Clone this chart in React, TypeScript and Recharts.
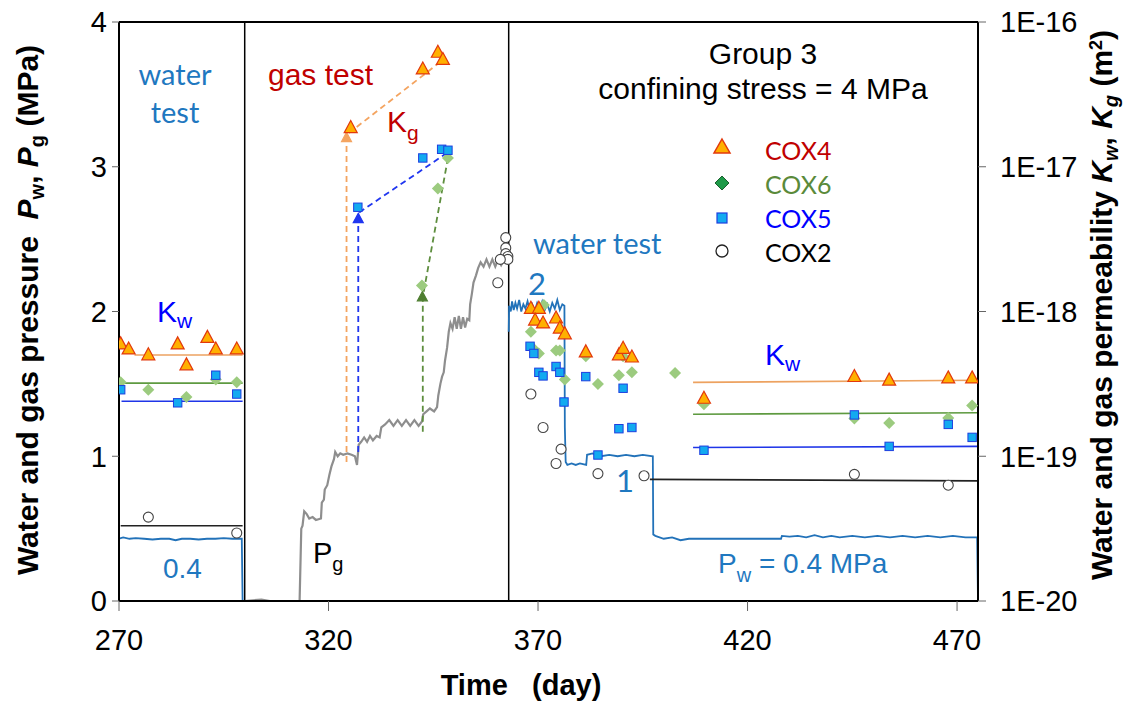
import React from "react";
import {
  ComposedChart,
  Line,
  Scatter,
  XAxis,
  YAxis,
  ReferenceLine,
} from "recharts";

// ---- data (days, MPa for pressures, m2 for permeabilities) ----
type Pt = { x: number; y: number };
const pts = (a: number[][]): Pt[] => a.map(([x, y]) => ({ x, y }));

const xTicks = [270, 320, 370, 420, 470];
const pTicks = [0, 1, 2, 3, 4];
const kTicks = [1e-20, 1e-19, 1e-18, 1e-17, 1e-16];
const stageBounds = [300, 363];

// water pressure Pw
const pwStage1 = pts([
  [270, 0.43], [271, 0.44], [272.5, 0.43], [274, 0.435], [276, 0.43], [278, 0.425],
  [280, 0.43], [282, 0.43], [283.5, 0.42], [285, 0.43], [287, 0.43], [289, 0.425],
  [291, 0.43], [293, 0.43], [295, 0.435], [297, 0.43], [299.3, 0.43], [299.5, 0], [300, 0],
]);
const pwStage3 = pts([
  [363, 1.86], [363.1, 2.04], [363.5, 2.0], [363.8, 2.07], [364.2, 2.01], [364.6, 2.06],
  [365, 2.02], [365.5, 2.08], [366, 2.0], [366.5, 2.05], [367, 2.02], [367.5, 2.07],
  [368, 2.01], [368.6, 2.05], [369.2, 2.0], [369.8, 2.06], [370.4, 2.02], [371, 2.07],
  [371.6, 2.01], [372.2, 2.05], [372.8, 2.0], [373.4, 2.06], [374, 2.02], [374.6, 2.08],
  [375.2, 2.01], [375.8, 2.05], [376.3, 2.04], [376.4, 1.2], [376.6, 0.96], [377, 0.94],
  [378, 0.95], [379, 0.94], [380, 0.95], [381.5, 0.94], [381.7, 1.01], [383, 1.02],
  [385, 1.0], [387, 1.01], [389, 1.0], [391, 1.01], [393, 1.0], [395, 1.01], [397.4, 1.0],
  [397.5, 0.46], [398, 0.45], [400, 0.43], [402, 0.44], [404, 0.42], [406, 0.43],
  [408, 0.43], [428, 0.43], [428.2, 0.45], [430, 0.445], [432, 0.45], [434, 0.44],
  [436, 0.455], [438, 0.44], [440, 0.45], [442, 0.44], [445, 0.45], [448, 0.44],
  [451, 0.45], [454, 0.44], [457, 0.45], [460, 0.44], [463, 0.45], [466, 0.44],
  [469, 0.45], [472, 0.44], [474.8, 0.44], [475, 0],
]);

// gas pressure Pg
const pgGas = pts([
  [300, 0], [304, 0.01], [306, 0], [313.1, 0], [313.5, 0.5], [313.8, 0.52], [314.2, 0.62],
  [314.8, 0.6], [315.4, 0.57], [316.2, 0.58], [317, 0.56], [318.2, 0.57], [318.4, 0.68],
  [318.9, 0.7], [319.1, 0.77], [319.7, 0.8], [320.2, 0.87], [320.7, 0.93], [321.3, 0.98],
  [321.6, 1.03], [322.2, 1.0], [322.8, 1.02], [323.5, 1.01], [324.5, 1.02], [325.5, 1.01],
  [326.3, 1.0], [326.8, 0.94], [327.2, 1.08], [327.8, 1.1], [328.5, 1.13], [329.2, 1.1],
  [329.9, 1.14], [330.6, 1.11], [331.5, 1.14], [332.2, 1.13], [332.6, 1.2], [333.5, 1.22],
  [334.5, 1.25], [335.5, 1.21], [336.5, 1.25], [337.5, 1.21], [338.5, 1.25], [339.5, 1.21],
  [340.5, 1.25], [341.5, 1.21], [342.3, 1.24], [342.6, 1.29], [343.4, 1.31], [344.2, 1.33],
  [345.2, 1.31], [345.9, 1.34], [346.2, 1.42], [346.7, 1.5], [347.1, 1.55], [347.5, 1.58],
  [347.8, 1.66], [348.3, 1.75], [348.7, 1.86], [349.1, 1.92], [349.6, 1.88], [350.1, 1.96],
  [350.6, 1.88], [351.1, 1.97], [351.6, 1.88], [352.1, 1.96], [352.6, 1.89], [353.1, 1.95],
  [353.6, 1.94], [353.8, 2.05], [354.2, 2.12], [354.6, 2.2], [355.2, 2.25], [355.7, 2.3],
  [356.3, 2.34], [357, 2.31], [357.7, 2.36], [358.4, 2.31], [359.1, 2.36], [359.8, 2.31],
  [360.5, 2.36], [361.2, 2.32], [361.9, 2.36], [362.6, 2.33],
]);

// dashed Kg guides (in pressure units, left axis)
const guideCox4 = pts([[324.3, 0.96], [324.3, 3.22], [346.5, 3.72]]);
const guideCox5 = pts([[327.1, 1.03], [327.1, 2.68], [348.5, 3.1]]);
const guideCox6 = pts([[342.5, 1.17], [342.5, 2.1], [348.5, 3.06]]);
const arrowCox4 = pts([[324.3, 3.2]]);
const arrowCox5 = pts([[327.1, 2.64]]);
const arrowCox6 = pts([[342.4, 2.1]]);

// permeabilities (right axis)
const cox4 = pts([
  [270.4, 5.96e-19], [272.3, 5.5e-19], [277.0, 5.01e-19], [284.0, 5.96e-19], [286.1, 4.27e-19],
  [291.1, 6.61e-19], [293.1, 5.5e-19], [298.1, 5.5e-19],
  [325.3, 1.86e-17], [342.5, 4.73e-17], [346.1, 6.17e-17], [347.3, 5.5e-17],
  [368.3, 1.05e-18], [370.2, 1.05e-18], [369.3, 8.71e-19], [371.2, 8.32e-19], [374.3, 9.0e-19],
  [375.2, 7.67e-19], [376.4, 7.0e-19], [381.4, 5.25e-19], [389.3, 5.01e-19], [390.3, 5.56e-19],
  [392.4, 4.84e-19], [409.6, 2.51e-19], [445.5, 3.55e-19], [453.8, 3.35e-19], [467.9, 3.47e-19],
  [473.6, 3.47e-19],
]);
const cox6 = pts([
  [270.4, 3.24e-19], [277.0, 2.88e-19], [286.1, 2.57e-19], [293.1, 3.39e-19], [298.1, 3.24e-19],
  [348.5, 1.15e-17], [346.1, 7.08e-18], [342.3, 1.51e-18],
  [371.4, 1.11e-18], [368.3, 7.24e-19], [369.0, 5.5e-19], [370.2, 5.13e-19], [374.3, 5.37e-19],
  [375.2, 5.37e-19], [376.4, 3.39e-19], [381.4, 4.9e-19], [384.3, 3.16e-19], [389.3, 3.63e-19],
  [390.3, 4.9e-19], [392.4, 3.8e-19], [402.7, 3.76e-19], [409.6, 2.29e-19], [445.5, 1.82e-19],
  [453.8, 1.7e-19], [467.9, 1.84e-19], [473.6, 2.24e-19],
]);
const cox5 = pts([
  [270.4, 2.88e-19], [284.0, 2.34e-19], [293.1, 3.63e-19], [298.1, 2.69e-19],
  [327.0, 5.25e-18], [342.5, 1.15e-17], [347.0, 1.32e-17], [348.5, 1.3e-17],
  [368.1, 5.75e-19], [369.0, 5.13e-19], [370.2, 3.8e-19], [371.2, 3.59e-19], [374.3, 4.17e-19],
  [375.2, 3.8e-19], [376.2, 2.37e-19], [381.4, 3.55e-19], [384.3, 1.02e-19], [390.3, 2.95e-19],
  [389.3, 1.55e-19], [392.4, 1.58e-19], [409.6, 1.1e-19], [445.5, 1.93e-19], [453.8, 1.17e-19],
  [467.9, 1.66e-19], [473.6, 1.35e-19],
]);
const cox2 = pts([
  [277.0, 3.8e-20], [298.1, 2.95e-20],
  [360.4, 1.58e-18], [362.3, 3.24e-18], [362.3, 2.75e-18], [362.3, 2.51e-18], [362.8, 2.4e-18],
  [362.8, 2.29e-18], [361.0, 2.29e-18],
  [368.3, 2.69e-19], [371.2, 1.58e-19], [375.5, 1.12e-19], [374.3, 8.91e-20], [384.3, 7.59e-20],
  [395.3, 7.33e-20], [445.5, 7.5e-20], [467.9, 6.31e-20],
]);

// mean Kw lines
const kwCox4 = [pts([[273.7, 5.0e-19], [299.5, 5.0e-19]]), pts([[407, 3.24e-19], [475, 3.35e-19]])];
const kwCox6 = [pts([[270.6, 3.2e-19], [299.5, 3.2e-19]]), pts([[407, 1.95e-19], [475, 2.0e-19]])];
const kwCox5 = [pts([[270.6, 2.4e-19], [299.5, 2.4e-19]]), pts([[407, 1.15e-19], [475, 1.17e-19]])];
const kwCox2 = [pts([[270.4, 3.31e-20], [299.5, 3.31e-20]]), pts([[396.7, 6.92e-20], [475, 6.76e-20]])];

// ---- styling ----
const ARIAL = '"Liberation Sans", Arial, sans-serif';
const LATO = 'Lato, "Open Sans", sans-serif';
const WATER_BLUE = "#1F78C0";
const DARK_RED = "#C00000";

const TRI_FILL = "#FFB000";
const TRI_STROKE = "#E2380C";
const DIA_FILL = "#9CCB7F";
const SQ_FILL = "#12AAF0";
const SQ_STROKE = "#1D3FE0";

const triangle = (fill: string, stroke: string, s = 6.5) => (p: any) => {
  const { cx, cy } = p;
  return (
    <path
      d={`M${cx},${cy - s * 1.1} L${cx + s},${cy + s * 0.75} L${cx - s},${cy + s * 0.75} Z`}
      fill={fill}
      stroke={stroke}
      strokeWidth={1.2}
    />
  );
};
const diamond = (fill: string, stroke = "none", s = 6) => (p: any) => {
  const { cx, cy } = p;
  return (
    <path
      d={`M${cx},${cy - s} L${cx + s},${cy} L${cx},${cy + s} L${cx - s},${cy} Z`}
      fill={fill}
      stroke={stroke}
    />
  );
};
const square = (fill: string, stroke: string, s = 4.2) => (p: any) => {
  const { cx, cy } = p;
  return <rect x={cx - s} y={cy - s} width={s * 2} height={s * 2} fill={fill} stroke={stroke} strokeWidth={1} />;
};
const circle = (p: any) => <circle cx={p.cx} cy={p.cy} r={5} fill="#fff" stroke="#444" strokeWidth={1.1} />;

const fmtK = (v: number) => "1E" + Math.round(Math.log10(v));

const tickStyle = { fontSize: 29, fill: "#000", fontFamily: ARIAL };

const Overlay = () => (
  <svg
    width={1132}
    height={704}
    style={{ position: "absolute", left: 0, top: 0, pointerEvents: "none" }}
  >
    {/* axis titles */}
    <text
      transform="translate(38,310) rotate(-90)"
      textAnchor="middle"
      fontFamily={ARIAL}
      fontWeight="bold"
      fontSize={30}
      fill="#000"
    >
      Water and gas pressure{"\u00a0\u00a0"}
      <tspan fontStyle="italic">P</tspan>
      <tspan fontSize={20} dy={6}>w</tspan>
      <tspan dy={-6}>, </tspan>
      <tspan fontStyle="italic">P</tspan>
      <tspan fontSize={20} dy={6}>g</tspan>
      <tspan dy={-6}>{"\u00a0"}(MPa)</tspan>
    </text>
    <text
      transform="translate(1112,305) rotate(-90)"
      textAnchor="middle"
      fontFamily={ARIAL}
      fontWeight="bold"
      fontSize={30}
      fill="#000"
    >
      Water and gas permeability{" "}
      <tspan fontStyle="italic">K</tspan>
      <tspan fontSize={20} dy={6} fontStyle="italic">w</tspan>
      <tspan dy={-6}>, </tspan>
      <tspan fontStyle="italic">K</tspan>
      <tspan fontSize={20} dy={6} fontStyle="italic">g</tspan>
      <tspan dy={-6}> (m</tspan>
      <tspan fontSize={18} dy={-10}>2</tspan>
      <tspan dy={10}>)</tspan>
    </text>
    <text x={521} y={695} textAnchor="middle" fontFamily={ARIAL} fontWeight="bold" fontSize={29} fill="#000">
      Time{"\u00a0\u00a0\u00a0"}(day)
    </text>

    {/* stage labels */}
    <g fontFamily={LATO} fill={WATER_BLUE} fontSize={29}>
      <text x={175} y={85} textAnchor="middle">water</text>
      <text x={175} y={123} textAnchor="middle">test</text>
      <text x={533} y={254}>water test</text>
      <text x={528} y={295} fontSize={31}>2</text>
      <text x={616} y={492} fontSize={31}>1</text>
    </g>
    <text x={268} y={85} fontFamily={ARIAL} fontSize={30} fill={DARK_RED}>gas test</text>
    <text x={387} y={132} fontFamily={ARIAL} fontSize={30} fill={DARK_RED}>
      K<tspan fontSize={21} dy={8}>g</tspan>
    </text>
    <g fontFamily={ARIAL} fill="#0000FF" fontSize={30}>
      <text x={157} y={322}>
        K<tspan fontSize={21} dy={6}>w</tspan>
      </text>
      <text x={765} y={365}>
        K<tspan fontSize={21} dy={6}>w</tspan>
      </text>
    </g>
    <text x={163} y={578} fontFamily={ARIAL} fontSize={28} fill={WATER_BLUE}>0.4</text>
    <text x={313} y={563} fontFamily={ARIAL} fontSize={29} fill="#000">
      P<tspan fontSize={20} dy={8}>g</tspan>
    </text>
    <text x={718} y={573} fontFamily={ARIAL} fontSize={28} fill={WATER_BLUE}>
      P<tspan fontSize={20} dy={9}>w</tspan>
      <tspan dy={-9}> = 0.4 MPa</tspan>
    </text>

    {/* header */}
    <g fontFamily={ARIAL} fontSize={30} fill="#000" textAnchor="middle">
      <text x={763} y={64}>Group 3</text>
      <text x={763} y={99}>confining stress = 4 MPa</text>
    </g>

    {/* legend */}
    <path d="M722,139 L730,153 L714,153 Z" fill={TRI_FILL} stroke={TRI_STROKE} strokeWidth={1.5} />
    <path d="M722,176 L729,183 L722,190 L715,183 Z" fill="#1E9A48" stroke="#1B5E2E" strokeWidth={1} />
    <rect x={717} y={213} width={10} height={10} fill={SQ_FILL} stroke={SQ_STROKE} strokeWidth={1.2} />
    <circle cx={722} cy={251} r={6} fill="#fff" stroke="#222" strokeWidth={1.3} />
    <g fontFamily={LATO} fontSize={25}>
      <text x={765} y={160} fill={DARK_RED}>COX4</text>
      <text x={765} y={194} fill="#5A8A3A">COX6</text>
      <text x={765} y={228} fill="#0000FF">COX5</text>
      <text x={765} y={262} fill="#000">COX2</text>
    </g>
  </svg>
);

const fitLine = (data: Pt[], color: string, key: string) => (
  <Line
    key={key}
    yAxisId="right"
    data={data}
    dataKey="y"
    stroke={color}
    strokeWidth={1.6}
    dot={false}
    activeDot={false}
    isAnimationActive={false}
  />
);

export default function App() {
  return (
    <div style={{ position: "absolute", left: 0, top: 0, width: 1132, height: 704, background: "#fff" }}>
      <ComposedChart width={1132} height={704} margin={{ top: 22, right: 0, bottom: 0, left: 0 }}>
        <XAxis
          dataKey="x"
          type="number"
          domain={[270, 475]}
          ticks={xTicks}
          allowDataOverflow
          height={103}
          tickSize={10}
          tickMargin={18}
          tick={tickStyle}
          axisLine={{ stroke: "#000", strokeWidth: 2 }}
          tickLine={{ stroke: "#666" }}
        />
        <YAxis
          yAxisId="left"
          type="number"
          domain={[0, 4]}
          ticks={pTicks}
          width={119}
          tickSize={7}
          tickMargin={5}
          tick={tickStyle}
          axisLine={{ stroke: "#000", strokeWidth: 2 }}
          tickLine={{ stroke: "#666" }}
        />
        <YAxis
          yAxisId="right"
          orientation="right"
          type="number"
          scale="log"
          domain={[1e-20, 1e-16]}
          ticks={kTicks}
          allowDataOverflow
          tickFormatter={fmtK}
          width={154}
          tickSize={8}
          tickMargin={14}
          tick={tickStyle}
          axisLine={{ stroke: "#000", strokeWidth: 2 }}
          tickLine={{ stroke: "#666" }}
        />
        <ReferenceLine yAxisId="left" y={4} stroke="#000" strokeWidth={2} />
        {stageBounds.map((d) => (
          <ReferenceLine key={d} yAxisId="left" x={d} stroke="#000" strokeWidth={1.5} />
        ))}

        <Line yAxisId="left" data={pgGas} dataKey="y" stroke="#8E8E8E" strokeWidth={2.2} dot={false} activeDot={false} isAnimationActive={false} />
        <Line yAxisId="left" data={pwStage1} dataKey="y" stroke="#2272B9" strokeWidth={1.8} dot={false} activeDot={false} isAnimationActive={false} />
        <Line yAxisId="left" data={pwStage3} dataKey="y" stroke="#2272B9" strokeWidth={1.8} dot={false} activeDot={false} isAnimationActive={false} />

        <Line yAxisId="left" data={guideCox4} dataKey="y" stroke="#F4A460" strokeWidth={1.8} strokeDasharray="6 4" dot={false} activeDot={false} isAnimationActive={false} />
        <Line yAxisId="left" data={guideCox5} dataKey="y" stroke="#2036F0" strokeWidth={1.8} strokeDasharray="6 4" dot={false} activeDot={false} isAnimationActive={false} />
        <Line yAxisId="left" data={guideCox6} dataKey="y" stroke="#5E8E3E" strokeWidth={1.8} strokeDasharray="6 4" dot={false} activeDot={false} isAnimationActive={false} />
        <Scatter yAxisId="left" data={arrowCox4} dataKey="y" shape={triangle("#F4A460", "#F4A460", 5)} isAnimationActive={false} />
        <Scatter yAxisId="left" data={arrowCox5} dataKey="y" shape={triangle("#2036F0", "#2036F0", 5)} isAnimationActive={false} />
        <Scatter yAxisId="left" data={arrowCox6} dataKey="y" shape={triangle("#4E7E30", "#4E7E30", 5)} isAnimationActive={false} />

        {kwCox4.map((d, i) => fitLine(d, "#EDA260", "k4" + i))}
        {kwCox6.map((d, i) => fitLine(d, "#5E9A40", "k6" + i))}
        {kwCox5.map((d, i) => fitLine(d, "#1F35E8", "k5" + i))}
        {kwCox2.map((d, i) => fitLine(d, "#222222", "k2" + i))}

        <Scatter yAxisId="right" data={cox2} dataKey="y" shape={circle} isAnimationActive={false} />
        <Scatter yAxisId="right" data={cox6} dataKey="y" shape={diamond(DIA_FILL)} isAnimationActive={false} />
        <Scatter yAxisId="right" data={cox5} dataKey="y" shape={square(SQ_FILL, SQ_STROKE)} isAnimationActive={false} />
        <Scatter yAxisId="right" data={cox4} dataKey="y" shape={triangle(TRI_FILL, TRI_STROKE)} isAnimationActive={false} />
      </ComposedChart>
      <Overlay />
    </div>
  );
}
